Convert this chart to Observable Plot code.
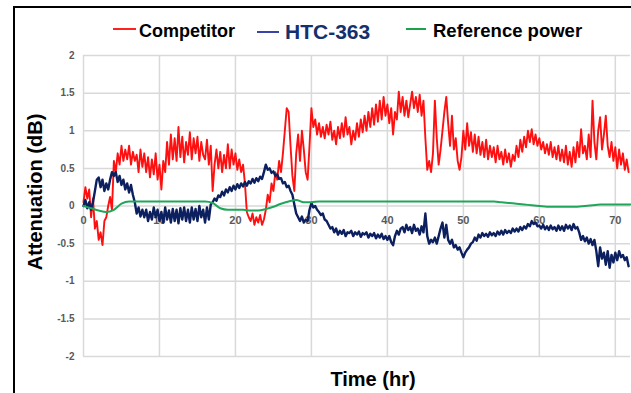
<!DOCTYPE html>
<html>
<head>
<meta charset="utf-8">
<script src="https://cdn.jsdelivr.net/npm/d3@7"></script>
<script src="https://cdn.jsdelivr.net/npm/@observablehq/plot@0.6"></script>
<style>
  html, body { margin: 0; padding: 0; background: #fff; overflow: hidden; width: 631px; height: 393px; }
  body { position: relative; font-family: "Liberation Sans", Arial, sans-serif; }
  #frame { position: absolute; left: 13px; top: 6px; width: 700px; height: 500px; border: 2px solid #000; box-sizing: border-box; }
  #legend { position: absolute; left: 0; top: 0; width: 631px; height: 40px; }
  .sw { position: absolute; height: 2px; }
  .lt { position: absolute; font-weight: bold; line-height: 1; transform: translateY(-50%); white-space: nowrap; }
  #chart { position: absolute; left: 0; top: 40px; }
</style>
</head>
<body>
<div id="frame"></div>
<div id="legend"></div>
<div id="chart"></div>
<script>
// ---- data ----
const seriesNames = ["Competitor", "HTC-363", "Reference power"];
const seriesColors = ["#ff1010", "#0c1f5e", "#1fa65a"];
const legendSwatchColors = ["#ff2020", "#3a44a8", "#16a34a"];

const xTicks = [0, 10, 20, 30, 40, 50, 60, 70];
const yTicks = [-2, -1.5, -1, -0.5, 0, 0.5, 1, 1.5, 2];

// sample times, every 0.25 hr from 0 to 71.75
const hours = d3.range(0, 72, 0.25);

const competitor = [
  0.05, 0.25, 0.10, 0.22,
  -0.15, 0.10, -0.30, -0.20,
  -0.45, -0.35, -0.52, -0.20,
  -0.15, 0.00, 0.12, -0.05,
  0.60, 0.45, 0.70, 0.55,
  0.80, 0.60, 0.75, 0.62,
  0.80, 0.55, 0.72, 0.60,
  0.68, 0.45, 0.75, 0.52,
  0.70, 0.45, 0.65, 0.38,
  0.62, 0.42, 0.70, 0.35,
  0.55, 0.22, 0.60, 0.45,
  0.85, 0.55, 0.95, 0.62,
  0.90, 0.60, 1.05, 0.65,
  0.92, 0.58, 0.85, 0.68,
  0.98, 0.62, 0.90, 0.70,
  0.92, 0.60, 0.85, 0.68,
  0.62, 0.88, 0.55, 0.80,
  0.20, 0.55, 0.75, 0.50,
  0.72, 0.45, 0.68, 0.50,
  0.82, 0.50, 0.75, 0.55,
  0.70, 0.48, 0.62, 0.45,
  0.55, 0.30, -0.08, -0.15,
  -0.20, -0.10, -0.25, -0.15,
  -0.22, -0.12, -0.25, -0.18,
  -0.05, 0.15, 0.05, 0.30,
  0.20, 0.45, 0.35, 0.60,
  0.45, 0.70, 1.00, 1.30,
  1.25, 0.80, 0.40, 0.20,
  0.70, 0.95, 0.60, 1.00,
  0.75, 0.45, 0.35, 0.80,
  1.30, 1.05, 1.15, 0.95,
  1.10, 0.92, 1.05, 0.90,
  1.08, 0.95, 1.12, 0.88,
  1.00, 0.82, 1.05, 0.90,
  1.10, 0.92, 1.18, 0.95,
  1.05, 0.82, 1.00, 0.88,
  1.10, 0.92, 1.15, 0.98,
  1.20, 1.00, 1.25, 1.05,
  1.30, 1.08, 1.35, 1.12,
  1.40, 1.15, 1.45, 1.20,
  1.35, 1.10, 1.30, 0.95,
  1.25, 1.15, 1.52, 1.25,
  1.45, 1.20, 1.40, 1.18,
  1.35, 1.52, 1.30, 1.45,
  1.25, 1.48, 1.20, 1.40,
  0.90, 0.48, 0.60, 0.45,
  0.70, 1.40, 0.90, 0.55,
  0.75, 1.00, 1.25, 1.45,
  1.10, 0.80, 1.20, 0.75,
  0.90, 0.60, 0.48, 0.65,
  1.00, 0.75, 1.10, 0.80,
  0.98, 0.72, 0.95, 0.70,
  0.92, 0.68, 0.85, 0.65,
  0.88, 0.62, 0.80, 0.65,
  0.78, 0.58, 0.80, 0.62,
  0.72, 0.55, 0.75, 0.58,
  0.70, 0.52, 0.68, 0.60,
  0.80, 0.65, 0.88, 0.72,
  0.92, 0.78, 1.00, 0.85,
  1.02, 0.82, 0.95, 0.80,
  0.90, 0.75, 0.85, 0.70,
  0.82, 0.68, 0.85, 0.65,
  0.78, 0.62, 0.80, 0.60,
  0.75, 0.58, 0.80, 0.55,
  0.72, 0.52, 0.78, 0.58,
  0.85, 0.65, 1.02, 0.70,
  0.80, 0.62, 0.95, 0.65,
  1.40, 0.85, 0.62, 1.00,
  1.18, 0.75, 0.95, 1.20,
  0.80, 0.65, 0.85, 0.60,
  0.78, 0.50, 0.75, 0.55,
  0.70, 0.48, 0.62, 0.45
];

const htc363 = [
  0.00, 0.08, -0.03, 0.05,
  -0.05, 0.05, 0.20, 0.35,
  0.38, 0.25, 0.35, 0.20,
  0.30, 0.22, 0.35, 0.45,
  0.40, 0.45, 0.32, 0.40,
  0.28, 0.35, 0.22, 0.30,
  0.18, 0.28, 0.15, 0.05,
  -0.10, -0.02, -0.14, -0.05,
  -0.15, -0.05, -0.20, -0.08,
  -0.18, -0.02, -0.15, -0.05,
  -0.20, -0.08, -0.22, -0.02,
  -0.18, -0.06, -0.22, -0.04,
  -0.20, -0.05, -0.23, -0.03,
  -0.18, -0.02, -0.20, -0.05,
  -0.22, -0.02, -0.18, -0.04,
  -0.20, 0.00, -0.15, -0.05,
  -0.22, -0.02, -0.18, 0.02,
  0.05, 0.10, 0.07, 0.14,
  0.12, 0.19, 0.14, 0.22,
  0.18, 0.25, 0.20, 0.27,
  0.22, 0.29, 0.24, 0.30,
  0.26, 0.32, 0.27, 0.33,
  0.30, 0.36, 0.31, 0.37,
  0.33, 0.39, 0.36, 0.45,
  0.55, 0.48, 0.50, 0.44,
  0.46, 0.40, 0.42, 0.36,
  0.37, 0.30, 0.32, 0.25,
  0.27, 0.20, 0.15, 0.02,
  -0.10, -0.15, -0.20, -0.14,
  -0.22, -0.18, -0.20, -0.05,
  0.04, -0.02, 0.00, -0.05,
  -0.08, -0.12, -0.10, -0.18,
  -0.20, -0.25, -0.30, -0.28,
  -0.35, -0.30, -0.38, -0.33,
  -0.37, -0.32, -0.40, -0.35,
  -0.36, -0.33, -0.40, -0.35,
  -0.38, -0.34, -0.41, -0.36,
  -0.38, -0.35, -0.42, -0.37,
  -0.40, -0.36, -0.43, -0.38,
  -0.42, -0.37, -0.44, -0.40,
  -0.45, -0.40, -0.48, -0.52,
  -0.40, -0.33, -0.38, -0.30,
  -0.28, -0.35, -0.25, -0.32,
  -0.28, -0.36, -0.25, -0.33,
  -0.30, -0.38, -0.27, -0.35,
  -0.10, -0.40, -0.50, -0.45,
  -0.48, -0.42, -0.50, -0.40,
  -0.30, -0.22, -0.42, -0.25,
  -0.45, -0.50, -0.45, -0.55,
  -0.52, -0.58, -0.55, -0.62,
  -0.68, -0.62, -0.58, -0.55,
  -0.50, -0.48, -0.42, -0.46,
  -0.38, -0.42, -0.36, -0.40,
  -0.37, -0.41, -0.35, -0.39,
  -0.36, -0.40, -0.34, -0.38,
  -0.33, -0.38, -0.32, -0.36,
  -0.33, -0.36, -0.30, -0.34,
  -0.30, -0.34, -0.28, -0.32,
  -0.27, -0.30, -0.24, -0.27,
  -0.20, -0.24, -0.22, -0.27,
  -0.26, -0.30, -0.25, -0.31,
  -0.27, -0.32, -0.26, -0.31,
  -0.28, -0.33, -0.26, -0.32,
  -0.27, -0.33, -0.25, -0.30,
  -0.26, -0.32, -0.24, -0.30,
  -0.28, -0.35, -0.45, -0.40,
  -0.47, -0.42, -0.50, -0.44,
  -0.52, -0.45, -0.60, -0.80,
  -0.55, -0.70, -0.62, -0.78,
  -0.60, -0.82, -0.65, -0.75,
  -0.62, -0.72, -0.60, -0.68,
  -0.65, -0.72, -0.68, -0.80
];

// reference power, hourly 0..72
const refHours = d3.range(0, 73, 1);
const refPower = [
  0.00, -0.03, -0.06, -0.08, -0.05, 0.03, 0.06, 0.06, 0.06, 0.06,
  0.06, 0.06, 0.06, 0.06, 0.06, 0.06, 0.06, 0.04, -0.03, -0.05,
  -0.05, -0.05, -0.06, -0.06, -0.04, -0.01, 0.03, 0.06, 0.08, 0.05,
  0.05, 0.06, 0.06, 0.06, 0.06, 0.06, 0.06, 0.06, 0.06, 0.06,
  0.06, 0.06, 0.06, 0.06, 0.06, 0.06, 0.06, 0.06, 0.06, 0.06,
  0.06, 0.06, 0.06, 0.06, 0.06, 0.05, 0.04, 0.03, 0.02, 0.01,
  0.00, -0.01, -0.01, -0.01, -0.01, -0.01, 0.00, 0.01, 0.02, 0.02,
  0.02, 0.02, 0.02
];

// ---- build rows ----
const toRows = (times, vals) => vals.slice(0, times.length).map((v, i) => ({t: times[i], v}));
const redRows = toRows(hours, competitor);
const blueRows = toRows(hours, htc363);
const greenRows = toRows(refHours, refPower);

// ---- legend ----
const legend = document.getElementById("legend");
const legendItems = [
  {sx: 113, sw: 23, sy: 29, tx: 139, ty: 31, size: 18, color: "#000"},
  {sx: 257, sw: 22, sy: 32, tx: 285, ty: 31, size: 21, color: "#14306e"},
  {sx: 406, sw: 20, sy: 29, tx: 433, ty: 31, size: 18.5, color: "#000"}
];
legendItems.forEach((it, i) => {
  const s = document.createElement("div");
  s.className = "sw";
  s.style.left = it.sx + "px";
  s.style.top = (it.sy - 1) + "px";
  s.style.width = it.sw + "px";
  s.style.background = legendSwatchColors[i];
  legend.appendChild(s);
  const t = document.createElement("div");
  t.className = "lt";
  t.style.left = it.tx + "px";
  t.style.top = it.ty + "px";
  t.style.fontSize = it.size + "px";
  t.style.color = it.color;
  t.textContent = seriesNames[i];
  legend.appendChild(t);
});

// ---- chart ----
const chart = Plot.plot({
  width: 631,
  height: 353,
  marginLeft: 83,
  marginRight: 1,
  marginTop: 15,
  marginBottom: 37,
  x: {domain: [0, 72], axis: null},
  y: {domain: [-2, 2], axis: null},
  style: {fontFamily: "'Liberation Sans', Arial, sans-serif", background: "transparent", overflow: "visible"},
  marks: [
    Plot.ruleY(yTicks, {stroke: "#d9d9d9", strokeWidth: 1.5}),
    Plot.ruleX(xTicks, {stroke: "#d9d9d9", strokeWidth: 1.5}),
    Plot.text(yTicks, {x: 0, y: d => d, text: d => String(d), textAnchor: "end", dx: -9,
      fontSize: 10, fontWeight: "bold", fill: "#595959"}),
    Plot.text(xTicks, {x: d => d, y: 0, text: d => String(d), dy: 14,
      fontSize: 11, fontWeight: "bold", fill: "#595959"}),
    Plot.line(redRows, {x: "t", y: "v", stroke: seriesColors[0], strokeWidth: 1.9}),
    Plot.line(blueRows, {x: "t", y: "v", stroke: seriesColors[1], strokeWidth: 2.4}),
    Plot.line(greenRows, {x: "t", y: "v", stroke: seriesColors[2], strokeWidth: 2, curve: "monotone-x"}),
    Plot.text(["Attenuation (dB)"], {frameAnchor: "left", textAnchor: "middle", dx: -48, dy: -14, rotate: -90,
      fontSize: 20, fontWeight: "bold", fill: "#000"}),
    Plot.text(["Time (hr)"], {frameAnchor: "bottom", dx: 16, dy: 29,
      fontSize: 20, fontWeight: "bold", fill: "#000"})
  ]
});
document.getElementById("chart").appendChild(chart);
</script>
</body>
</html>
